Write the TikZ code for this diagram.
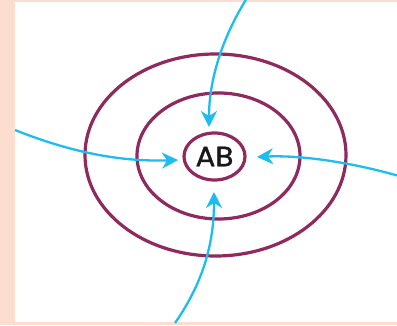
\documentclass[tikz,border=0pt]{standalone}
\usepackage{fontspec}
\newfontfamily\abfont[FakeBold=1.2]{Poppins}
\usetikzlibrary{arrows.meta,shapes.geometric}
\definecolor{peach}{HTML}{FDDDD0}
\definecolor{ring}{HTML}{8E2A5E}
\definecolor{flow}{HTML}{1DBDEF}
\tikzset{
  ringstyle/.style={draw=ring, line width=3.2pt, ellipse, inner sep=0pt},
  flowarrow/.style={draw=flow, line width=2.3pt, -{Stealth[length=16pt,width=16pt,inset=5pt]}},
}
\begin{document}
\begin{tikzpicture}[x=1pt,y=1pt]
  \fill[peach] (0,0) rectangle (397,325);
  \fill[white] (15,3) rectangle (397,323);
  \useasboundingbox (0,0) rectangle (397,325);
  % rings
  \node[ringstyle, minimum width=261pt, minimum height=202pt] (outer) at (215.5,170) {};
  \node[ringstyle, minimum width=163pt, minimum height=126pt] (middle) at (218.5,169) {};
  \node[ringstyle, minimum width=61pt, minimum height=47pt] (ab) at (214.5,168.5) {};
  \node[text=black!90] (label) at (ab.center) {\abfont\fontsize{28}{30}\selectfont\scalebox{1.05}[1]{AB}};
  % arrow ends
  \coordinate (tS) at (247,327);
  \coordinate (tE) at (209,198);
  \coordinate (lS) at (15,195);
  \coordinate (lE) at (178,165);
  \coordinate (rS) at (399,149);
  \coordinate (rE) at (257,168);
  \coordinate (bS) at (175,2);
  \coordinate (bE) at (214,133);
  \draw[flowarrow] (tS) .. controls (222,287) and (209,245) .. (tE);
  \draw[flowarrow] (lS) .. controls (70,173) and (120,163) .. (lE);
  \draw[flowarrow] (rS) .. controls (350,163) and (300,170) .. (rE);
  \draw[flowarrow] (bS) .. controls (205,45) and (214,85) .. (bE);
\end{tikzpicture}
\end{document}
